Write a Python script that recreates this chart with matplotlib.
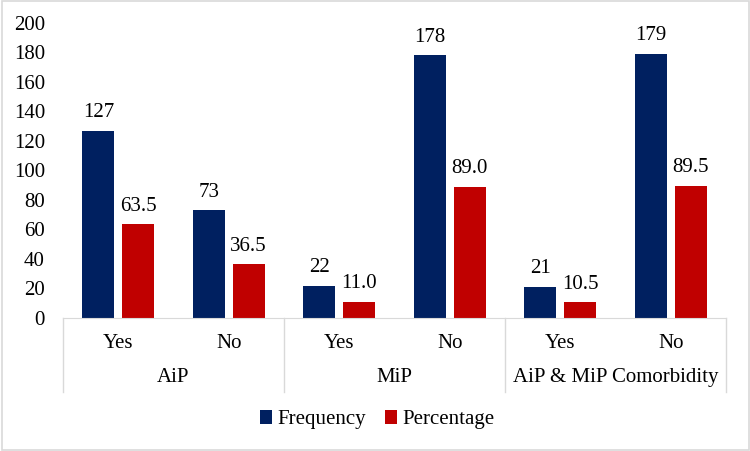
import numpy as np
import matplotlib.pyplot as plt
from matplotlib.patches import Rectangle

plt.rcParams['font.family'] = ['Liberation Serif', 'DejaVu Serif']

# Data
groups = ["AiP", "MiP", "AiP & MiP Comorbidity"]
answers = ["Yes", "No", "Yes", "No", "Yes", "No"]
frequency = [127, 73, 22, 178, 21, 179]
percentage = [63.5, 36.5, 11.0, 89.0, 10.5, 89.5]

navy = "#002060"
red = "#C00000"
grey = "#D9D9D9"
fs = 15

fig = plt.figure(figsize=(7.5, 4.51), dpi=100)
ax = fig.add_axes([0.084, 0.295, 0.884, 0.654])

x = np.arange(len(answers))
w = 0.29
off = 0.18
b1 = ax.bar(x - off, frequency, w, color=navy, label="Frequency")
b2 = ax.bar(x + off, percentage, w, color=red, label="Percentage")

# data labels
for bar, v in zip(b1, frequency):
    ax.annotate(str(v), (bar.get_x() + bar.get_width() / 2, v), xytext=(0, 13),
                textcoords="offset points", ha="center", va="center", fontsize=fs)
for bar, v in zip(b2, percentage):
    ax.annotate(f"{v:.1f}", (bar.get_x() + bar.get_width() / 2, v), xytext=(0, 13),
                textcoords="offset points", ha="center", va="center", fontsize=fs)

ax.set_xlim(-0.5, 5.5)
ax.set_ylim(0, 200)
ax.set_yticks(range(0, 201, 20))
ax.tick_params(axis="y", length=0, labelsize=fs, pad=13)
ax.set_xticks([])

for s in ["top", "right", "left"]:
    ax.spines[s].set_visible(False)
ax.spines["bottom"].set_color(grey)

# multi-level category axis
trans = ax.get_xaxis_transform()
for xs in [-0.5, 1.5, 3.5, 5.5]:
    ax.plot([xs, xs], [0, -0.251], transform=trans, color=grey, lw=1, clip_on=False)
for i, lab in enumerate(answers):
    ax.text(i, -0.085, lab, transform=trans, ha="center", va="center", fontsize=fs)
for i, g in enumerate(groups):
    ax.text(2 * i + 0.5, -0.203, g, transform=trans, ha="center", va="center", fontsize=fs)

fig.legend(handles=[b1, b2], loc="center", bbox_to_anchor=(0.503, 0.069), ncol=2,
           frameon=False, fontsize=fs, handlelength=0.6, handleheight=0.6,
           handletextpad=0.25, columnspacing=0.9)

# outer border
fig.patches.append(Rectangle((0.002, 0.003), 0.996, 0.994, transform=fig.transFigure,
                             fill=False, edgecolor=grey, lw=1.2))

fig.savefig("out.png", dpi=100)
